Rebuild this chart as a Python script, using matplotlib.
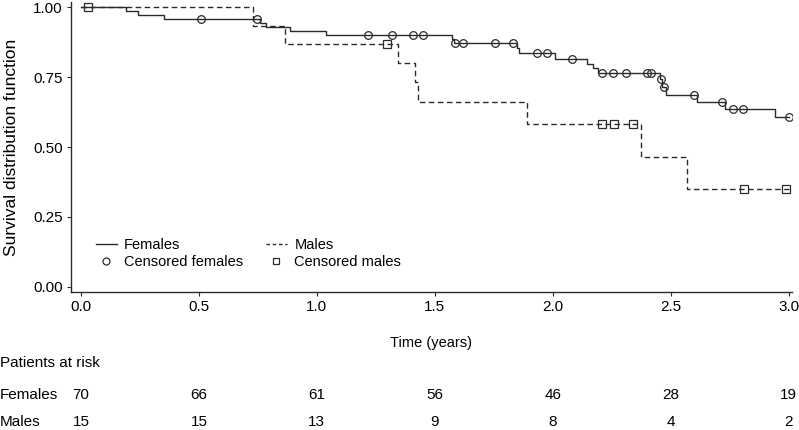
import numpy as np
import matplotlib
matplotlib.use("Agg")
from matplotlib import pyplot as plt
from matplotlib.lines import Line2D
from matplotlib import transforms

plt.rcParams['font.family'] = ['Liberation Sans', 'DejaVu Sans']
plt.rcParams['font.size'] = 10

# Kaplan-Meier step data (time in years, survival after the step)
fem_times = [0.0, 0.19, 0.24, 0.35, 0.76, 0.785, 0.885, 1.04, 1.575, 1.58, 1.847, 1.855,
             2.008, 2.145, 2.17, 2.19, 2.455, 2.465, 2.478, 2.61, 2.73, 2.94]
fem_surv = [1.0, 0.986, 0.971, 0.957, 0.943, 0.929, 0.914, 0.900, 0.886, 0.871, 0.853, 0.836,
            0.814, 0.797, 0.781, 0.764, 0.743, 0.714, 0.686, 0.660, 0.636, 0.607]
fem_cens = [0.51, 0.745, 1.216, 1.318, 1.407, 1.449, 1.585, 1.619, 1.754, 1.831, 1.932, 1.975,
            2.08, 2.21, 2.254, 2.31, 2.40, 2.415, 2.46, 2.472, 2.597, 2.716, 2.763, 2.805, 3.0]

male_times = [0.0, 0.73, 0.865, 1.343, 1.415, 1.43, 1.89, 2.373, 2.57]
male_surv = [1.0, 0.933, 0.867, 0.800, 0.733, 0.660, 0.583, 0.465, 0.350]
male_cens = [0.03, 1.297, 2.21, 2.26, 2.34, 2.81, 2.99]

end_time = 3.0

risk_times = [0.0, 0.5, 1.0, 1.5, 2.0, 2.5, 3.0]
risk_females = [70, 66, 61, 56, 46, 28, 19]
risk_males = [15, 15, 13, 9, 8, 4, 2]

col = '#2b2b2b'


def step_value(times, surv, t):
    idx = np.searchsorted(times, t, side='right') - 1
    return np.array(surv)[idx]


fig = plt.figure(figsize=(7.99, 4.30), dpi=100)
ax = fig.add_axes([0.0889, 0.321, 0.902, 0.674])

# curves
ax.step(fem_times + [end_time], fem_surv + [fem_surv[-1]], where='post',
        color=col, lw=1.0)
ax.step(male_times + [end_time], male_surv + [male_surv[-1]], where='post',
        color=col, lw=1.0, ls=(0, (4, 2.5)))

# censor marks
ax.plot(fem_cens, step_value(fem_times, fem_surv, fem_cens), ls='none', marker='o',
        ms=5.5, mfc='none', mec=col, mew=0.9)
ax.plot(male_cens, step_value(male_times, male_surv, male_cens), ls='none', marker='s',
        ms=5.5, mfc='none', mec=col, mew=0.9)

ax.set_xlim(-0.042, 3.013)
ax.set_ylim(-0.018, 1.018)
ax.set_xticks([0.0, 0.5, 1.0, 1.5, 2.0, 2.5, 3.0])
ax.set_xticklabels(['0.0', '0.5', '1.0', '1.5', '2.0', '2.5', '3.0'])
ax.set_yticks([0.0, 0.25, 0.5, 0.75, 1.0])
ax.set_yticklabels(['0.00', '0.25', '0.50', '0.75', '1.00'])
for s in ['top', 'right']:
    ax.spines[s].set_visible(False)
for s in ['left', 'bottom']:
    ax.spines[s].set_color(col)
    ax.spines[s].set_linewidth(1.0)
ax.tick_params(direction='out', length=3, width=0.8, color=col, labelsize=11,
               labelcolor='black', pad=3)

ax.set_ylabel('Survival distribution function', fontsize=12.5, va='center')
ax.yaxis.set_label_coords(-0.082, 0.5)
ax.set_xlabel('Time (years)', fontsize=10.5, va='center')
ax.xaxis.set_label_coords(0.5, -0.176)

handles = [
    Line2D([], [], color=col, lw=1.0),
    Line2D([], [], ls='none', marker='o', ms=5, mfc='none', mec=col, mew=0.9),
    Line2D([], [], color=col, lw=1.0, ls=(0, (2.5, 2))),
    Line2D([], [], ls='none', marker='s', ms=5, mfc='none', mec=col, mew=0.9),
]
labels = ['Females', 'Censored females', 'Males', 'Censored males']
ax.legend(handles, labels, ncol=2, frameon=False, loc='upper left',
          bbox_to_anchor=(0.02, 0.222), fontsize=10.5, handlelength=1.45,
          handletextpad=0.5, columnspacing=1.55, labelspacing=0.25,
          borderpad=0.2)

# patients at risk table
trans = transforms.blended_transform_factory(ax.transData, fig.transFigure)
fig.text(0.0, 1 - 363 / 430, 'Patients at risk', fontsize=11, va='center', ha='left')
fig.text(0.0, 1 - 395 / 430, 'Females', fontsize=11, va='center', ha='left')
fig.text(0.0, 1 - 422 / 430, 'Males', fontsize=11, va='center', ha='left')
for t, nf, nm in zip(risk_times, risk_females, risk_males):
    ax.text(t, 1 - 395 / 430, str(nf), transform=trans, fontsize=11,
            va='center', ha='center', clip_on=False)
    ax.text(t, 1 - 422 / 430, str(nm), transform=trans, fontsize=11,
            va='center', ha='center', clip_on=False)

fig.savefig('out.png', dpi=100)
